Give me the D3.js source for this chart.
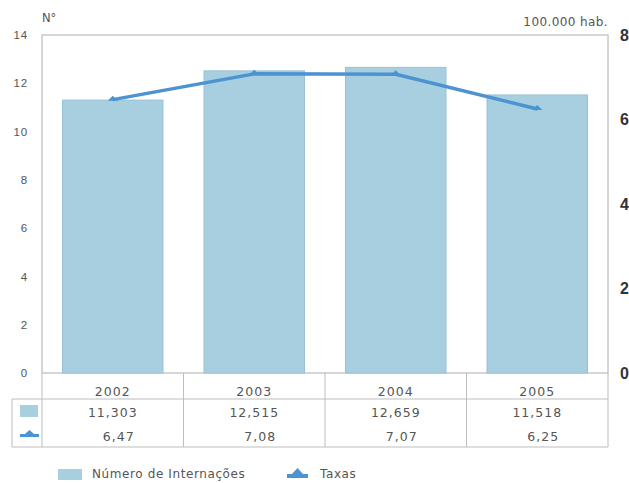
<!DOCTYPE html>
<html>
<head>
<meta charset="utf-8">
<script src="https://cdn.jsdelivr.net/npm/d3@7"></script>
<style>
  body { margin: 0; background: #fff; }
  svg { display: block; font-family: "DejaVu Sans", "Liberation Sans", Arial, sans-serif; }
</style>
</head>
<body>
<svg id="chart" width="629" height="483"></svg>
<script>
// Hospital admissions (thousands) and rates per 100.000 inhabitants
const years = ["2002", "2003", "2004", "2005"];
const admissions = [11.303, 12.515, 12.659, 11.518];
const admissionLabels = ["11,303", "12,515", "12,659", "11,518"];
const rates = [6.47, 7.08, 7.07, 6.25];
const rateLabels = ["6,47", "7,08", "7,07", "6,25"];
const leftTicks = [0, 2, 4, 6, 8, 10, 12, 14];
const rightTicks = [0, 2, 4, 6, 8];

const barColor = "#a7cfdf";
const barStroke = "#98c2d4";
const lineColor = "#4b93d1";
const gridColor = "#bdbdbd";
const textColor = "#555";

const svg = d3.select("#chart");
const plot = { left: 42, right: 608, top: 35, bottom: 373 };

const x = d3.scaleBand().domain(years).range([plot.left, plot.right]).paddingInner(0.29).paddingOuter(0.145);
const xCell = d3.scaleBand().domain(years).range([plot.left, plot.right]);
const yL = d3.scaleLinear().domain([0, 14]).range([plot.bottom, plot.top]);
const yR = d3.scaleLinear().domain([0, 8]).range([plot.bottom, plot.top]);

// Plot frame
svg.append("rect")
  .attr("x", plot.left).attr("y", plot.top)
  .attr("width", plot.right - plot.left).attr("height", plot.bottom - plot.top)
  .attr("fill", "none").attr("stroke", "#c8c8c8").attr("stroke-width", 1.5);

// Bars
svg.append("g").selectAll("rect").data(years).join("rect")
  .attr("x", d => x(d))
  .attr("y", (d, i) => yL(admissions[i]))
  .attr("width", x.bandwidth())
  .attr("height", (d, i) => yL(0) - yL(admissions[i]))
  .attr("fill", barColor)
  .attr("stroke", barStroke)
  .attr("stroke-width", 1);

// Rate line
const line = d3.line()
  .x((d, i) => xCell(years[i]) + xCell.bandwidth() / 2)
  .y(d => yR(d));
svg.append("path").datum(rates)
  .attr("d", line)
  .attr("fill", "none")
  .attr("stroke", lineColor)
  .attr("stroke-width", 3.5)
  .attr("stroke-linejoin", "round");
svg.append("g").selectAll("path").data(rates).join("path")
  .attr("transform", (d, i) => `translate(${xCell(years[i]) + xCell.bandwidth() / 2},${yR(d)})`)
  .attr("d", "M-5,1 L0,-4 L5,1 Z")
  .attr("fill", lineColor);

// Left axis
const axL = svg.append("g").attr("transform", `translate(${plot.left},0)`)
  .call(d3.axisLeft(yL).tickValues(leftTicks).tickSize(0).tickPadding(14));
axL.select(".domain").remove();
axL.selectAll("text").attr("fill", textColor).style("font-size", "11.5px").style("letter-spacing", "0.8px");

// Right axis
const axR = svg.append("g").attr("transform", `translate(${plot.right},0)`)
  .call(d3.axisRight(yR).tickValues(rightTicks).tickSize(0).tickPadding(12));
axR.select(".domain").remove();
axR.selectAll("text").attr("fill", "#333").style("font-size", "16px").style("font-weight", "bold");

// Axis units
svg.append("text").attr("x", plot.left).attr("y", 22)
  .attr("fill", textColor).style("font-size", "11.5px").text("N°");
svg.append("text").attr("x", plot.right).attr("y", 26).attr("text-anchor", "end")
  .attr("fill", textColor).style("font-size", "12px").style("letter-spacing", "0.4px").text("100.000 hab.");

// Data table under the plot
const tbl = { left: 12, row1: 399, bottom: 447 };
const tg = svg.append("g");
tg.append("line").attr("x1", tbl.left).attr("x2", plot.right).attr("y1", tbl.row1).attr("y2", tbl.row1)
  .attr("stroke", gridColor);
tg.append("line").attr("x1", tbl.left).attr("x2", plot.right).attr("y1", tbl.bottom).attr("y2", tbl.bottom)
  .attr("stroke", gridColor);
tg.append("line").attr("x1", tbl.left).attr("x2", tbl.left).attr("y1", tbl.row1).attr("y2", tbl.bottom)
  .attr("stroke", gridColor);
const cellEdges = years.map(d => xCell(d)).concat([plot.right]);
tg.selectAll("line.v").data(cellEdges).join("line").attr("class", "v")
  .attr("x1", d => d).attr("x2", d => d)
  .attr("y1", plot.bottom).attr("y2", tbl.bottom)
  .attr("stroke", gridColor);

const cx = d => xCell(d) + xCell.bandwidth() / 2;
const cellText = sel => sel.attr("text-anchor", "middle").attr("fill", textColor)
  .style("font-size", "12.5px").style("letter-spacing", "1px");
tg.selectAll("text.yr").data(years).join("text").attr("class", "yr")
  .attr("x", d => cx(d)).attr("y", 396).call(cellText).text(d => d);
tg.selectAll("text.adm").data(admissionLabels).join("text").attr("class", "adm")
  .attr("x", (d, i) => cx(years[i])).attr("y", 417).call(cellText).text(d => d);
tg.selectAll("text.rt").data(rateLabels).join("text").attr("class", "rt")
  .attr("x", (d, i) => cx(years[i]) + 6).attr("y", 441).call(cellText).text(d => d);

// Row keys
tg.append("rect").attr("x", 20).attr("y", 405).attr("width", 18).attr("height", 12).attr("fill", barColor);
tg.append("rect").attr("x", 20).attr("y", 434).attr("width", 19).attr("height", 3).attr("fill", lineColor);
tg.append("path").attr("d", "M25,434 L29.5,430 L34,434 Z").attr("fill", lineColor);

// Legend
const lg = svg.append("g");
lg.append("rect").attr("x", 58).attr("y", 469).attr("width", 24).attr("height", 11).attr("fill", barColor);
lg.append("text").attr("x", 92).attr("y", 478).attr("fill", textColor)
  .style("font-size", "12px").style("letter-spacing", "0.6px")
  .text("Número de Internações");
lg.append("rect").attr("x", 287).attr("y", 474).attr("width", 21).attr("height", 4).attr("fill", lineColor);
lg.append("path").attr("d", "M292,474 L297.5,468 L303,474 Z").attr("fill", lineColor);
lg.append("text").attr("x", 320).attr("y", 478).attr("fill", textColor)
  .style("font-size", "12px").style("letter-spacing", "0.6px")
  .text("Taxas");
</script>
</body>
</html>
